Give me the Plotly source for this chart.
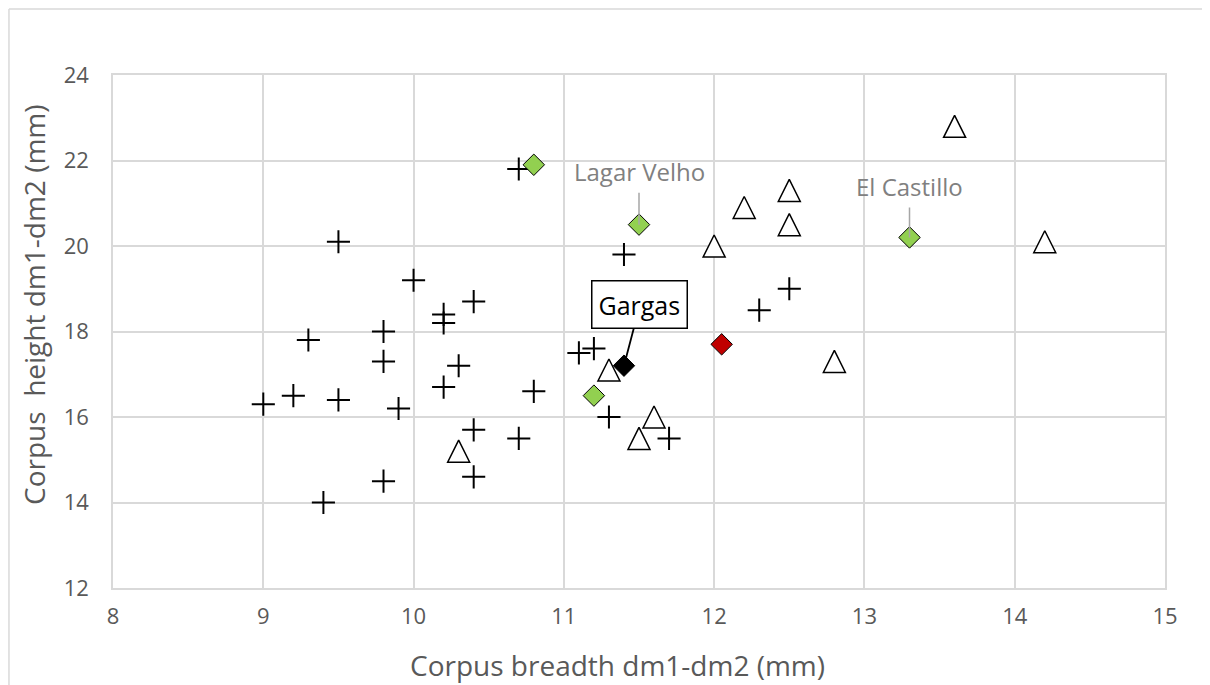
import plotly.graph_objects as go

# --- data ---
cross_x = [9.0, 9.2, 9.3, 9.4, 9.5, 9.5, 9.8, 9.8, 9.8, 9.9, 10.0, 10.2, 10.2, 10.2,
           10.3, 10.4, 10.4, 10.4, 10.7, 10.7, 10.8, 11.1, 11.2, 11.3, 11.4, 11.7, 12.3, 12.5]
cross_y = [16.3, 16.5, 17.8, 14.0, 20.1, 16.4, 18.0, 17.3, 14.5, 16.2, 19.2, 18.4, 18.2, 16.7,
           17.2, 18.7, 15.7, 14.6, 15.5, 21.8, 16.6, 17.5, 17.6, 16.0, 19.8, 15.5, 18.5, 19.0]

tri_x = [10.3, 11.3, 11.5, 11.6, 12.0, 12.2, 12.5, 12.5, 12.8, 13.6, 14.2]
tri_y = [15.2, 17.1, 15.5, 16.0, 20.0, 20.9, 21.3, 20.5, 17.3, 22.8, 20.1]

green_x = [10.8, 11.5, 11.2, 13.3]
green_y = [21.9, 20.5, 16.5, 20.2]

gargas_x = [11.4]
gargas_y = [17.2]

red_x = [12.05]
red_y = [17.7]

x_ticks = [8, 9, 10, 11, 12, 13, 14, 15]
y_ticks = [12, 14, 16, 18, 20, 22, 24]

GRID = "#d9d9d9"
TXT = "#595959"
FONT = "Open Sans"

fig = go.Figure()

fig.add_trace(go.Scatter(
    x=cross_x, y=cross_y, mode="markers", name="cross",
    marker=dict(symbol="cross-thin", size=16.5, line=dict(color="black", width=2), color="black"),
))
fig.add_trace(go.Scatter(
    x=tri_x, y=tri_y, mode="markers", name="triangle",
    marker=dict(symbol="arrow-down", size=22, angle=180, standoff=11,
                color="white", line=dict(color="black", width=1.5)),
))
fig.add_trace(go.Scatter(
    x=green_x, y=green_y, mode="markers", name="green",
    marker=dict(symbol="diamond", size=16.5, color="#92d050", line=dict(color="black", width=1)),
))
fig.add_trace(go.Scatter(
    x=gargas_x, y=gargas_y, mode="markers", name="Gargas",
    marker=dict(symbol="diamond", size=16.5, color="black", line=dict(color="black", width=1)),
))
fig.add_trace(go.Scatter(
    x=red_x, y=red_y, mode="markers", name="red",
    marker=dict(symbol="diamond", size=16.5, color="#c00000", line=dict(color="black", width=1)),
))

fig.add_annotation(x=green_x[1], y=green_y[1], text="Lagar Velho", showarrow=True,
                   ax=0, ay=-53, arrowhead=0, arrowwidth=1.5, arrowcolor="#a6a6a6",
                   standoff=0, borderpad=4,
                   font=dict(family=FONT, size=24, color="#808080"))
fig.add_annotation(x=green_x[3], y=green_y[3], text="El Castillo", showarrow=True,
                   ax=0, ay=-51, arrowhead=0, arrowwidth=1.5, arrowcolor="#a6a6a6",
                   standoff=0, borderpad=4,
                   font=dict(family=FONT, size=24, color="#808080"))
fig.add_annotation(x=gargas_x[0], y=gargas_y[0], text="Gargas", showarrow=True,
                   ax=16, ay=-61, arrowhead=0, arrowwidth=1.8, arrowcolor="black",
                   standoff=8, borderpad=6, bordercolor="black", borderwidth=1.5,
                   bgcolor="white",
                   font=dict(family=FONT, size=25, color="black"))

# axis titles
fig.add_annotation(xref="paper", yref="paper", x=0.4791, y=-0.1501,
                   text="Corpus breadth dm1-dm2 (mm)", showarrow=False,
                   xanchor="center", yanchor="middle",
                   font=dict(family=FONT, size=28, color=TXT))
fig.add_annotation(xref="paper", yref="paper", x=-0.0751, y=0.5517,
                   text="Corpus\u00a0 height dm1-dm2 (mm)", showarrow=False, textangle=-90,
                   xanchor="center", yanchor="middle",
                   font=dict(family=FONT, size=28, color=TXT))

# outer chart frame (only the top and left edges fall inside the picture)
fig.add_shape(type="line", xref="paper", yref="paper",
              x0=-0.0989, x1=1.3, y0=1.1287, y1=1.1287,
              line=dict(color=GRID, width=1.5), layer="below")
fig.add_shape(type="line", xref="paper", yref="paper",
              x0=-0.0989, x1=-0.0989, y0=-0.5, y1=1.1287,
              line=dict(color=GRID, width=1.5), layer="below")

fig.update_xaxes(range=[8, 15], tickvals=x_ticks, ticktext=[str(v) for v in x_ticks],
                 showgrid=True, gridcolor=GRID, gridwidth=1.5,
                 showline=True, mirror=True, linecolor=GRID, linewidth=1.5,
                 zeroline=False, ticks="", ticklabelstandoff=8,
                 tickfont=dict(family=FONT, size=22, color=TXT))
fig.update_yaxes(range=[12, 24], tickvals=y_ticks, ticktext=[str(v) for v in y_ticks],
                 showgrid=True, gridcolor=GRID, gridwidth=1.5,
                 showline=True, mirror=True, linecolor=GRID, linewidth=1.5,
                 zeroline=False, ticks="", ticklabelstandoff=18,
                 tickfont=dict(family=FONT, size=22, color=TXT))

# page body has an 8px margin, so the figure is offset by 8px
fig.update_layout(
    width=1202, height=677,
    margin=dict(l=105, r=45, t=67, b=97),
    paper_bgcolor="white", plot_bgcolor="white",
    showlegend=False,
    font=dict(family=FONT, color=TXT),
)

fig.write_html("out.html")
